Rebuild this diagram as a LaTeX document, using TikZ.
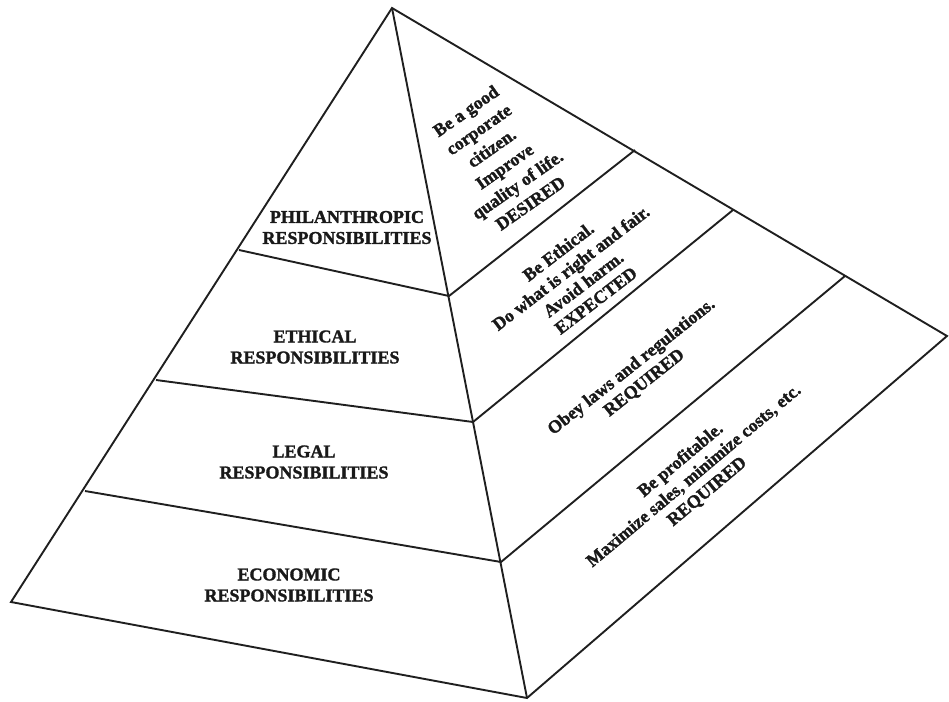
\documentclass[tikz,border=0pt]{standalone}
\usepackage{fontspec}
\setmainfont{Liberation Serif}[BoldFeatures={FakeBold=1.6}]
\begin{document}
\begin{tikzpicture}[x=1pt,y=-1pt,
  edge/.style={line width=1.9pt, draw=black!88, line join=miter},
  lbl/.style={font=\fontsize{18}{21}\selectfont\bfseries, align=center, text=black!90, inner sep=0pt},
  rlbl/.style={lbl, font=\fontsize{18}{20.5}\selectfont\bfseries}]
\useasboundingbox (0,0) rectangle (949,701);
% corners
\coordinate (A) at (392,8);
\coordinate (L) at (11,602);
\coordinate (F) at (527,698);
\coordinate (R) at (947,336);
% left edge divisions
\coordinate (L1) at (239,250);
\coordinate (L2) at (156,380);
\coordinate (L3) at (85,491);
% front edge divisions
\coordinate (F1) at (449,296);
\coordinate (F2) at (473,422);
\coordinate (F3) at (501,562);
% right edge divisions
\coordinate (R1) at (635,150);
\coordinate (R2) at (733,210);
\coordinate (R3) at (845,276);
% outline
\draw[edge] (A) -- (L) -- (F) -- (R) -- cycle;
\draw[edge] (A) -- (F);
\draw[edge] (L1) -- (F1) -- (R1);
\draw[edge] (L2) -- (F2) -- (R2);
\draw[edge] (L3) -- (F3) -- (R3);
% left face labels
\node[lbl] (phil) at (347,227.5) {PHILANTHROPIC\\RESPONSIBILITIES};
\node[lbl] (eth) at (315,347) {ETHICAL\\RESPONSIBILITIES};
\node[lbl] (leg) at (304,462) {LEGAL\\RESPONSIBILITIES};
\node[lbl] (eco) at (289,585) {ECONOMIC\\RESPONSIBILITIES};
% right face labels
\node[lbl, font=\fontsize{18}{22.5}\selectfont\bfseries, rotate=35] (des) at (498,157)
  {Be a good\\corporate\\citizen.\\Improve\\quality of life.\\DESIRED};
\node[rlbl, rotate=37.5] (exp) at (577,276)
  {Be Ethical.\\Do what is right and fair.\\Avoid harm.\\EXPECTED};
\node[rlbl, rotate=38.5] (req1) at (638,375)
  {Obey laws and regulations.\\REQUIRED};
\node[rlbl, rotate=40] (req2) at (694,476)
  {Be profitable.\\Maximize sales, minimize costs, etc.\\REQUIRED};
\end{tikzpicture}
\end{document}
